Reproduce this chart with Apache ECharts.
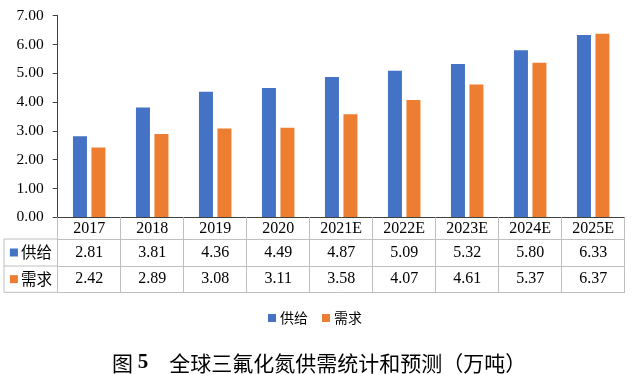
<!DOCTYPE html>
<html>
<head>
<meta charset="utf-8">
<script src="https://cdn.jsdelivr.net/npm/echarts@6/dist/echarts.min.js"></script>
<style>
html,body{margin:0;padding:0;background:#fff;}
#main{width:636px;height:374px;}
</style>
</head>
<body>
<div id="main"></div>
<script>
const years = ['2017','2018','2019','2020','2021E','2022E','2023E','2024E','2025E'];
const supply = [2.81,3.81,4.36,4.49,4.87,5.09,5.32,5.80,6.33];
const demand = [2.42,2.89,3.08,3.11,3.58,4.07,4.61,5.37,6.37];
const seriesNames = ['供给','需求'];
const colors = ['#4472C4','#ED7D31'];
const titleMain = '全球三氟化氮供需统计和预测（万吨）';

const SERIF = '"Liberation Serif","Times New Roman",serif';
const CJK = '"Noto Sans CJK SC","Noto Sans",sans-serif';
const GRID_LINE = '#BFBFBF';
const AXIS_LINE = '#404040';

const gridLeft = 57.7, gridRight = 636 - 624.7, gridTop = 15.7, gridBottomY = 217.3;
const rowLines = [239, 266, 292.3];

function rowName(idx){
  return {
    name: '{m|}{t|' + seriesNames[idx] + '}',
    nameLocation: 'start',
    nameGap: 26.8,
    nameTextStyle: {
      align: 'center',
      verticalAlign: 'middle',
      padding: [idx === 0 ? 27 : 26.3, 0, 0, 0],
      rich: {
        m: {width: 8, height: 8, backgroundColor: colors[idx], verticalAlign: 'middle'},
        t: {fontSize: 15.5, fontFamily: CJK, color: '#000', padding: [0,0,0,3], verticalAlign: 'middle'}
      }
    }
  };
}

const chart = echarts.init(document.getElementById('main'), null, {renderer: 'canvas'});
chart.setOption({
  animation: false,
  backgroundColor: '#fff',
  title: {
    text: '{a|图 }{b|5}{c|　' + titleMain + '}',
    left: 107, top: 346,
    textStyle: {
      fontWeight: 'normal',
      rich: {
        a: {fontFamily: CJK, fontSize: 21, fontWeight: 'normal', color: '#000', lineHeight: 24},
        b: {fontFamily: SERIF, fontSize: 21, fontWeight: 'bold', color: '#000', lineHeight: 24},
        c: {fontFamily: CJK, fontSize: 21, fontWeight: 'normal', color: '#000', lineHeight: 24}
      }
    }
  },
  legend: {
    data: seriesNames,
    left: 263, top: 305,
    icon: 'rect', itemWidth: 8, itemHeight: 8, itemGap: 14,
    textStyle: {fontFamily: CJK, fontSize: 14, color: '#000', lineHeight: 16, padding: [0,0,0,-1]}
  },
  grid: {left: gridLeft, right: gridRight, top: gridTop, bottom: 374 - gridBottomY, containLabel: false},
  xAxis: [
    {
      type: 'category', data: years, position: 'bottom',
      axisLine: {show: true, lineStyle: {color: AXIS_LINE, width: 1}},
      axisTick: {show: true, length: rowLines[2] - gridBottomY, lineStyle: {color: GRID_LINE}},
      axisLabel: {interval: 0, margin: (rowLines[0] - gridBottomY) / 2 + 0.5, verticalAlign: 'middle', fontFamily: SERIF, fontSize: 16, color: '#000', lineHeight: 16},
      z: 3
    },
    Object.assign({
      type: 'category', data: supply.map(v => v.toFixed(2)), position: 'bottom',
      offset: rowLines[0] - gridBottomY,
      axisLine: {show: true, lineStyle: {color: GRID_LINE}},
      axisTick: {show: false},
      axisLabel: {interval: 0, margin: (rowLines[1] - rowLines[0]) / 2, verticalAlign: 'middle', fontFamily: SERIF, fontSize: 16, color: '#000', lineHeight: 16}
    }, rowName(0)),
    Object.assign({
      type: 'category', data: demand.map(v => v.toFixed(2)), position: 'bottom',
      offset: rowLines[1] - gridBottomY,
      axisLine: {show: true, lineStyle: {color: GRID_LINE}},
      axisTick: {show: false},
      axisLabel: {interval: 0, margin: (rowLines[2] - rowLines[1]) / 2, verticalAlign: 'middle', fontFamily: SERIF, fontSize: 16, color: '#000', lineHeight: 16}
    }, rowName(1)),
    {
      type: 'category', data: years, position: 'bottom',
      offset: rowLines[2] - gridBottomY,
      axisLine: {show: true, lineStyle: {color: GRID_LINE}},
      axisTick: {show: false},
      axisLabel: {show: false}
    }
  ],
  yAxis: {
    type: 'value', min: 0, max: 7, interval: 1,
    axisLine: {show: true, lineStyle: {color: AXIS_LINE}},
    axisTick: {show: true, length: 5, lineStyle: {color: AXIS_LINE}},
    splitLine: {show: false},
    axisLabel: {formatter: v => v.toFixed(2), margin: 14, fontFamily: SERIF, fontSize: 15.5, color: '#000'}
  },
  graphic: [
    {type: 'line', shape: {x1: 4, y1: rowLines[0], x2: gridLeft, y2: rowLines[0]}, style: {stroke: GRID_LINE, lineWidth: 1}},
    {type: 'line', shape: {x1: 4, y1: rowLines[1], x2: gridLeft, y2: rowLines[1]}, style: {stroke: GRID_LINE, lineWidth: 1}},
    {type: 'line', shape: {x1: 4, y1: rowLines[2], x2: gridLeft, y2: rowLines[2]}, style: {stroke: GRID_LINE, lineWidth: 1}},
    {type: 'line', shape: {x1: 4, y1: rowLines[0], x2: 4, y2: rowLines[2]}, style: {stroke: GRID_LINE, lineWidth: 1}}
  ],
  series: [
    {name: seriesNames[0], type: 'bar', xAxisIndex: 0, data: supply, barWidth: 14, barGap: '32%', itemStyle: {color: colors[0]}},
    {name: seriesNames[1], type: 'bar', xAxisIndex: 0, data: demand, barWidth: 14, barGap: '32%', itemStyle: {color: colors[1]}}
  ]
});
</script>
</body>
</html>
